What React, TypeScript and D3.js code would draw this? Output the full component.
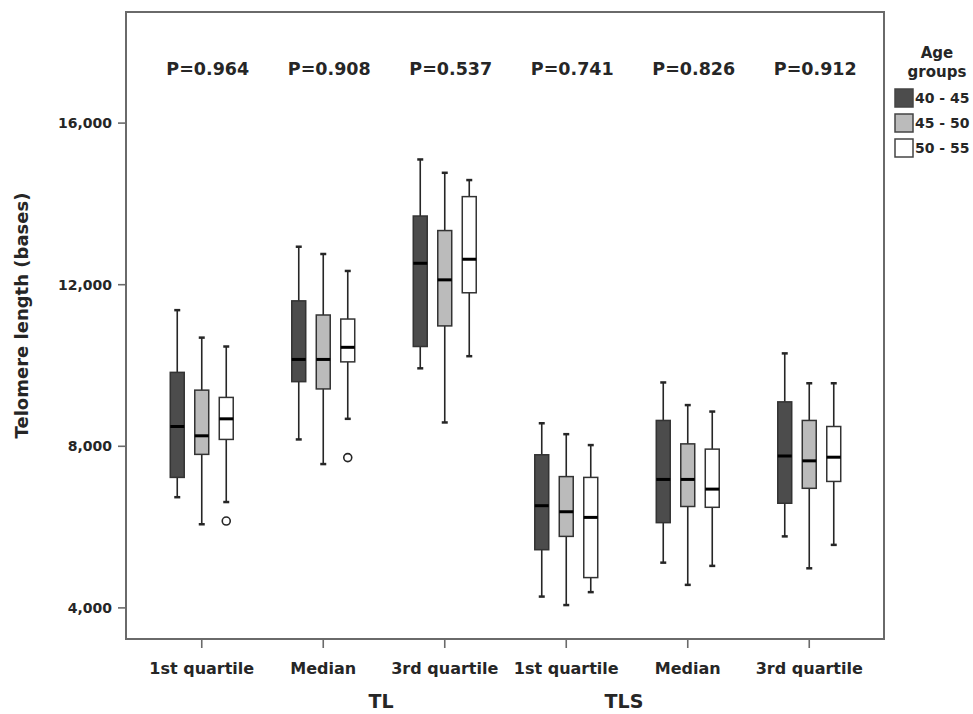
import * as d3 from 'd3'

// categories along the x axis (two measures x three statistics)
const categoryLabels = ['1st quartile', 'Median', '3rd quartile', '1st quartile', 'Median', '3rd quartile']
const measureLabels = ['TL', 'TLS']
const pValues = ['P=0.964', 'P=0.908', 'P=0.537', 'P=0.741', 'P=0.826', 'P=0.912']
const ageGroups = ['40 - 45', '45 - 50', '50 - 55']
const ageFills = ['#4c4c4c', '#bbbbbb', '#ffffff']
const yTicks = [4000, 8000, 12000, 16000]

// [lower whisker, Q1, median, Q3, upper whisker] per category
const age4045 = [
  [6740, 7230, 8490, 9830, 11370],
  [8170, 9600, 10150, 11600, 12940],
  [9930, 10470, 12530, 13700, 15100],
  [4280, 5440, 6530, 7790, 8570],
  [5120, 6110, 7180, 8640, 9580],
  [5770, 6590, 7760, 9100, 10300],
]
const age4550 = [
  [6070, 7800, 8260, 9390, 10690],
  [7560, 9420, 10150, 11250, 12760],
  [8590, 10980, 12120, 13340, 14770],
  [4070, 5770, 6380, 7250, 8300],
  [4570, 6510, 7180, 8060, 9020],
  [4980, 6960, 7640, 8640, 9560],
]
const age5055 = [
  [6620, 8170, 8680, 9210, 10470],
  [8680, 10090, 10450, 11150, 12340],
  [10230, 11800, 12630, 14180, 14590],
  [4390, 4750, 6240, 7230, 8030],
  [5040, 6490, 6940, 7930, 8860],
  [5560, 7130, 7730, 8490, 9560],
]
const boxStats = [age4045, age4550, age5055]

// outliers: [category index, age group index, value]
const outliers = [
  [0, 2, 6150],
  [1, 2, 7720],
]

const W = 973
const H = 714
const frame = { left: 126, top: 12, right: 884, bottom: 639 }
const font = '"DejaVu Sans", sans-serif'
const ink = '#262626'

export default function App() {
  const y = d3.scaleLinear().domain([3230, 18750]).range([frame.bottom, frame.top])
  const x = d3.scaleBand<number>().domain(d3.range(categoryLabels.length)).range([141, 870])
  const sub = d3.scaleBand<number>().domain(d3.range(ageGroups.length))
    .range([-36.75, 36.75]).paddingInner(0.43).paddingOuter(0.215)
  const cx = (c: number) => x(c)! + x.bandwidth() / 2
  const bw = sub.bandwidth()
  const fmt = d3.format(',')
  // measure titles sit between the 2nd/3rd (TL) and 1st/2nd (TLS) ticks, as in SPSS output
  const measureX = [(cx(1) + cx(2)) / 2, (cx(3) + cx(4)) / 2]

  return (
    <div style={{ position: 'absolute', left: 0, top: 0 }}>
      <svg width={W} height={H} style={{ display: 'block', background: '#fff' }} fontFamily={font} fontWeight="bold">
        {/* frame */}
        <rect x={frame.left} y={frame.top} width={frame.right - frame.left} height={frame.bottom - frame.top}
          fill="none" stroke="#6a6a6a" strokeWidth={2} />

        {/* y axis */}
        {yTicks.map(t => (
          <g key={t} transform={`translate(${frame.left},${y(t)})`}>
            <line x1={-8} x2={0} stroke="#6a6a6a" strokeWidth={1.6} />
            <text x={-14} dy="0.35em" textAnchor="end" fontSize={14} fill={ink}>{fmt(t)}</text>
          </g>
        ))}
        <text transform={`translate(22,${(frame.top + frame.bottom) / 2 - 10}) rotate(-90)`} textAnchor="middle"
          dy="0.35em" fontSize={18} fill={ink}>Telomere length (bases)</text>

        {/* x axis */}
        {categoryLabels.map((lab, c) => (
          <g key={c} transform={`translate(${cx(c)},${frame.bottom})`}>
            <line y1={0} y2={9} stroke="#6a6a6a" strokeWidth={1.6} />
            <text y={35} textAnchor="middle" fontSize={16} fill={ink}>{lab}</text>
          </g>
        ))}
        {measureLabels.map((m, i) => (
          <text key={m} x={measureX[i] - 3} y={708} textAnchor="middle" fontSize={19} fill={ink}>{m}</text>
        ))}

        {/* p-values */}
        {pValues.map((p, c) => (
          <text key={c} x={cx(c) + 6} y={75} textAnchor="middle" fontSize={17.5} fill={ink}>{p}</text>
        ))}

        {/* boxes */}
        {boxStats.map((rows, g) => rows.map((s, c) => {
          const left = cx(c) + sub(g)!
          const mid = left + bw / 2
          return (
            <g key={`${g}-${c}`}>
              <line x1={mid} x2={mid} y1={y(s[0])} y2={y(s[1])} stroke={ink} strokeWidth={1.6} />
              <line x1={mid} x2={mid} y1={y(s[3])} y2={y(s[4])} stroke={ink} strokeWidth={1.6} />
              <line x1={mid - 3} x2={mid + 3} y1={y(s[0])} y2={y(s[0])} stroke={ink} strokeWidth={2.5} />
              <line x1={mid - 3} x2={mid + 3} y1={y(s[4])} y2={y(s[4])} stroke={ink} strokeWidth={2.5} />
              <rect x={left} y={y(s[3])} width={bw} height={y(s[1]) - y(s[3])}
                fill={ageFills[g]} stroke="#333" strokeWidth={1.5} />
              <line x1={left} x2={left + bw} y1={y(s[2])} y2={y(s[2])} stroke="#000" strokeWidth={3} />
            </g>
          )
        }))}
        {outliers.map(([c, g, v], i) => (
          <circle key={i} cx={cx(c) + sub(g)! + bw / 2} cy={y(v)} r={4} fill="#fff" stroke={ink} strokeWidth={1.6} />
        ))}

        {/* legend */}
        <g>
          <text x={937} y={58} textAnchor="middle" fontSize={15} fill={ink}>Age</text>
          <text x={937} y={77} textAnchor="middle" fontSize={15} fill={ink}>groups</text>
          {ageGroups.map((a, i) => (
            <g key={a} transform={`translate(895,${98 + i * 25})`}>
              <rect x={0} y={-9} width={18} height={18} fill={ageFills[i]} stroke="#444" strokeWidth={1.5} />
              <text x={20} dy="0.36em" fontSize={14} fill={ink}>{a}</text>
            </g>
          ))}
        </g>
      </svg>
    </div>
  )
}
